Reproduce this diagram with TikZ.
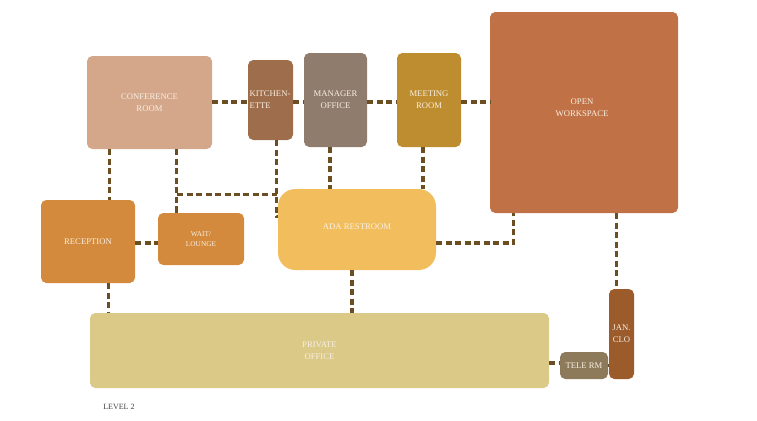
\documentclass[tikz,border=0pt]{standalone}
\usepackage{fontspec}
\setmainfont{Liberation Serif}
\usetikzlibrary{calc}
\definecolor{cConf}{HTML}{D4A78B}
\definecolor{cKit}{HTML}{9E6D4C}
\definecolor{cMan}{HTML}{907C6C}
\definecolor{cMeet}{HTML}{BE8D2F}
\definecolor{cOpen}{HTML}{C07246}
\definecolor{cRec}{HTML}{D48A3C}
\definecolor{cAda}{HTML}{F2BE5D}
\definecolor{cPriv}{HTML}{DBC988}
\definecolor{cTele}{HTML}{8D7A5B}
\definecolor{cJan}{HTML}{9B5B2B}
\definecolor{cLine}{HTML}{6B4F22}
\definecolor{cTxt}{HTML}{F8EFE2}
\tikzset{
  room/.style={draw=none, rounded corners=4pt, inner sep=0pt, align=center,
    text=cTxt, font=\fontsize{6.5pt}{9pt}\selectfont},
  conn/.style={draw=cLine, line width=2.5pt, dash pattern=on 4.5pt off 2.6pt}
}
\begin{document}
\begin{tikzpicture}[x=0.75pt,y=-0.75pt]
\useasboundingbox (0,0) rectangle (757,421);
% rooms
\node[room, fill=cConf, minimum width=93.75pt, minimum height=69.75pt] (conf) at (149.5,102.5) {CONFERENCE\\ROOM};
\node[room, fill=cKit, minimum width=33.75pt, minimum height=60pt, text width=31.5pt, align=left] (kit) at (270.5,100) {KITCHEN-\\ETTE};
\node[room, fill=cMan, minimum width=47.25pt, minimum height=70.5pt] (man) at (335.5,100) {MANAGER\\OFFICE};
\node[room, fill=cMeet, minimum width=48pt, minimum height=70.5pt] (meet) at (429,100) {MEETING\\ROOM};
\node[room, fill=cOpen, minimum width=141pt, minimum height=150.75pt] (open) at (584,112.5) {};
\node[text=cTxt, font=\fontsize{6.5pt}{9pt}\selectfont, align=center] (opentxt) at (582,108) {OPEN\\WORKSPACE};
\node[room, fill=cRec, minimum width=70.5pt, minimum height=62.25pt] (rec) at (88,241.5) {RECEPTION};
\node[room, fill=cRec, minimum width=64.5pt, minimum height=39pt, font=\fontsize{5.5pt}{8pt}\selectfont] (wait) at (201,239) {WAIT/\\LOUNGE};
\node[room, fill=cAda, minimum width=118.5pt, minimum height=60.75pt, rounded corners=13pt] (ada) at (357,229.5) {};
\node[text=cTxt, font=\fontsize{6.5pt}{9pt}\selectfont] (adatxt) at (357,227) {ADA RESTROOM};
\node[room, fill=cPriv, minimum width=344.25pt, minimum height=56.25pt] (priv) at (319.5,350.5) {PRIVATE\\OFFICE};
\node[room, fill=cTele, minimum width=36pt, minimum height=20.25pt] (tele) at (584,365.5) {TELE RM};
\node[room, fill=cJan, minimum width=18.75pt, minimum height=67.5pt] (jan) at (621.5,334) {JAN.\\CLO};
\node[anchor=west, text=black!75, font=\fontsize{6pt}{7pt}\selectfont, inner sep=0pt] (lvl) at (103,407) {LEVEL 2};
% horizontal top row
\draw[conn] (conf.east |- 0,102) -- (kit.west |- 0,102);
\draw[conn] (kit.east |- 0,102) -- (man.west |- 0,102);
\draw[conn] (man.east |- 0,102) -- (meet.west |- 0,102);
\draw[conn] (meet.east |- 0,102) -- (open.west |- 0,102);
% vertical links
\coordinate (c1) at ($(conf.south west)+(23,0)$);
\draw[conn] (c1) -- (c1 |- rec.north);
\coordinate (c2) at ($(conf.south west)+(90,0)$);
\draw[conn] (c2) -- (c2 |- wait.north);
\coordinate (k1) at ($(kit.south west)+(29,0)$);
\draw[conn] (k1) |- ($(ada.north west)+(0,28)$);
\coordinate (w1) at ($(wait.north west)+(19,0)$);
\draw[conn] (w1) |- ($(kit.south west)+(29,54)$);
\coordinate (m1) at ($(man.south)+(-5.5,0)$);
\draw[conn] (m1) -- (m1 |- ada.north);
\coordinate (t1) at ($(meet.south)+(-6,0)$);
\draw[conn] (t1) -- (t1 |- ada.north);
\coordinate (r1) at ($(rec.east)+(0,1.5)$);
\draw[conn] (r1) -- (r1 -| wait.west);
\coordinate (r2) at ($(rec.south west)+(68,0)$);
\draw[conn] (r2) -- (r2 |- priv.north);
\coordinate (a1) at ($(ada.south)+(-5,0)$);
\draw[conn] (a1) -- (a1 |- priv.north);
\coordinate (a2) at ($(ada.east)+(0,13.5)$);
\coordinate (o1) at ($(open.south west)+(24,0)$);
\draw[conn] (a2) -| (o1);
\coordinate (o2) at ($(open.south west)+(127,0)$);
\draw[conn] (o2) -- (o2 |- jan.north);
\coordinate (p1) at ($(priv.east)+(0,12.5)$);
\draw[conn] (p1) -- (p1 -| tele.west);
\draw[conn] (tele.east) -- (tele.east -| jan.west);
\end{tikzpicture}
\end{document}
